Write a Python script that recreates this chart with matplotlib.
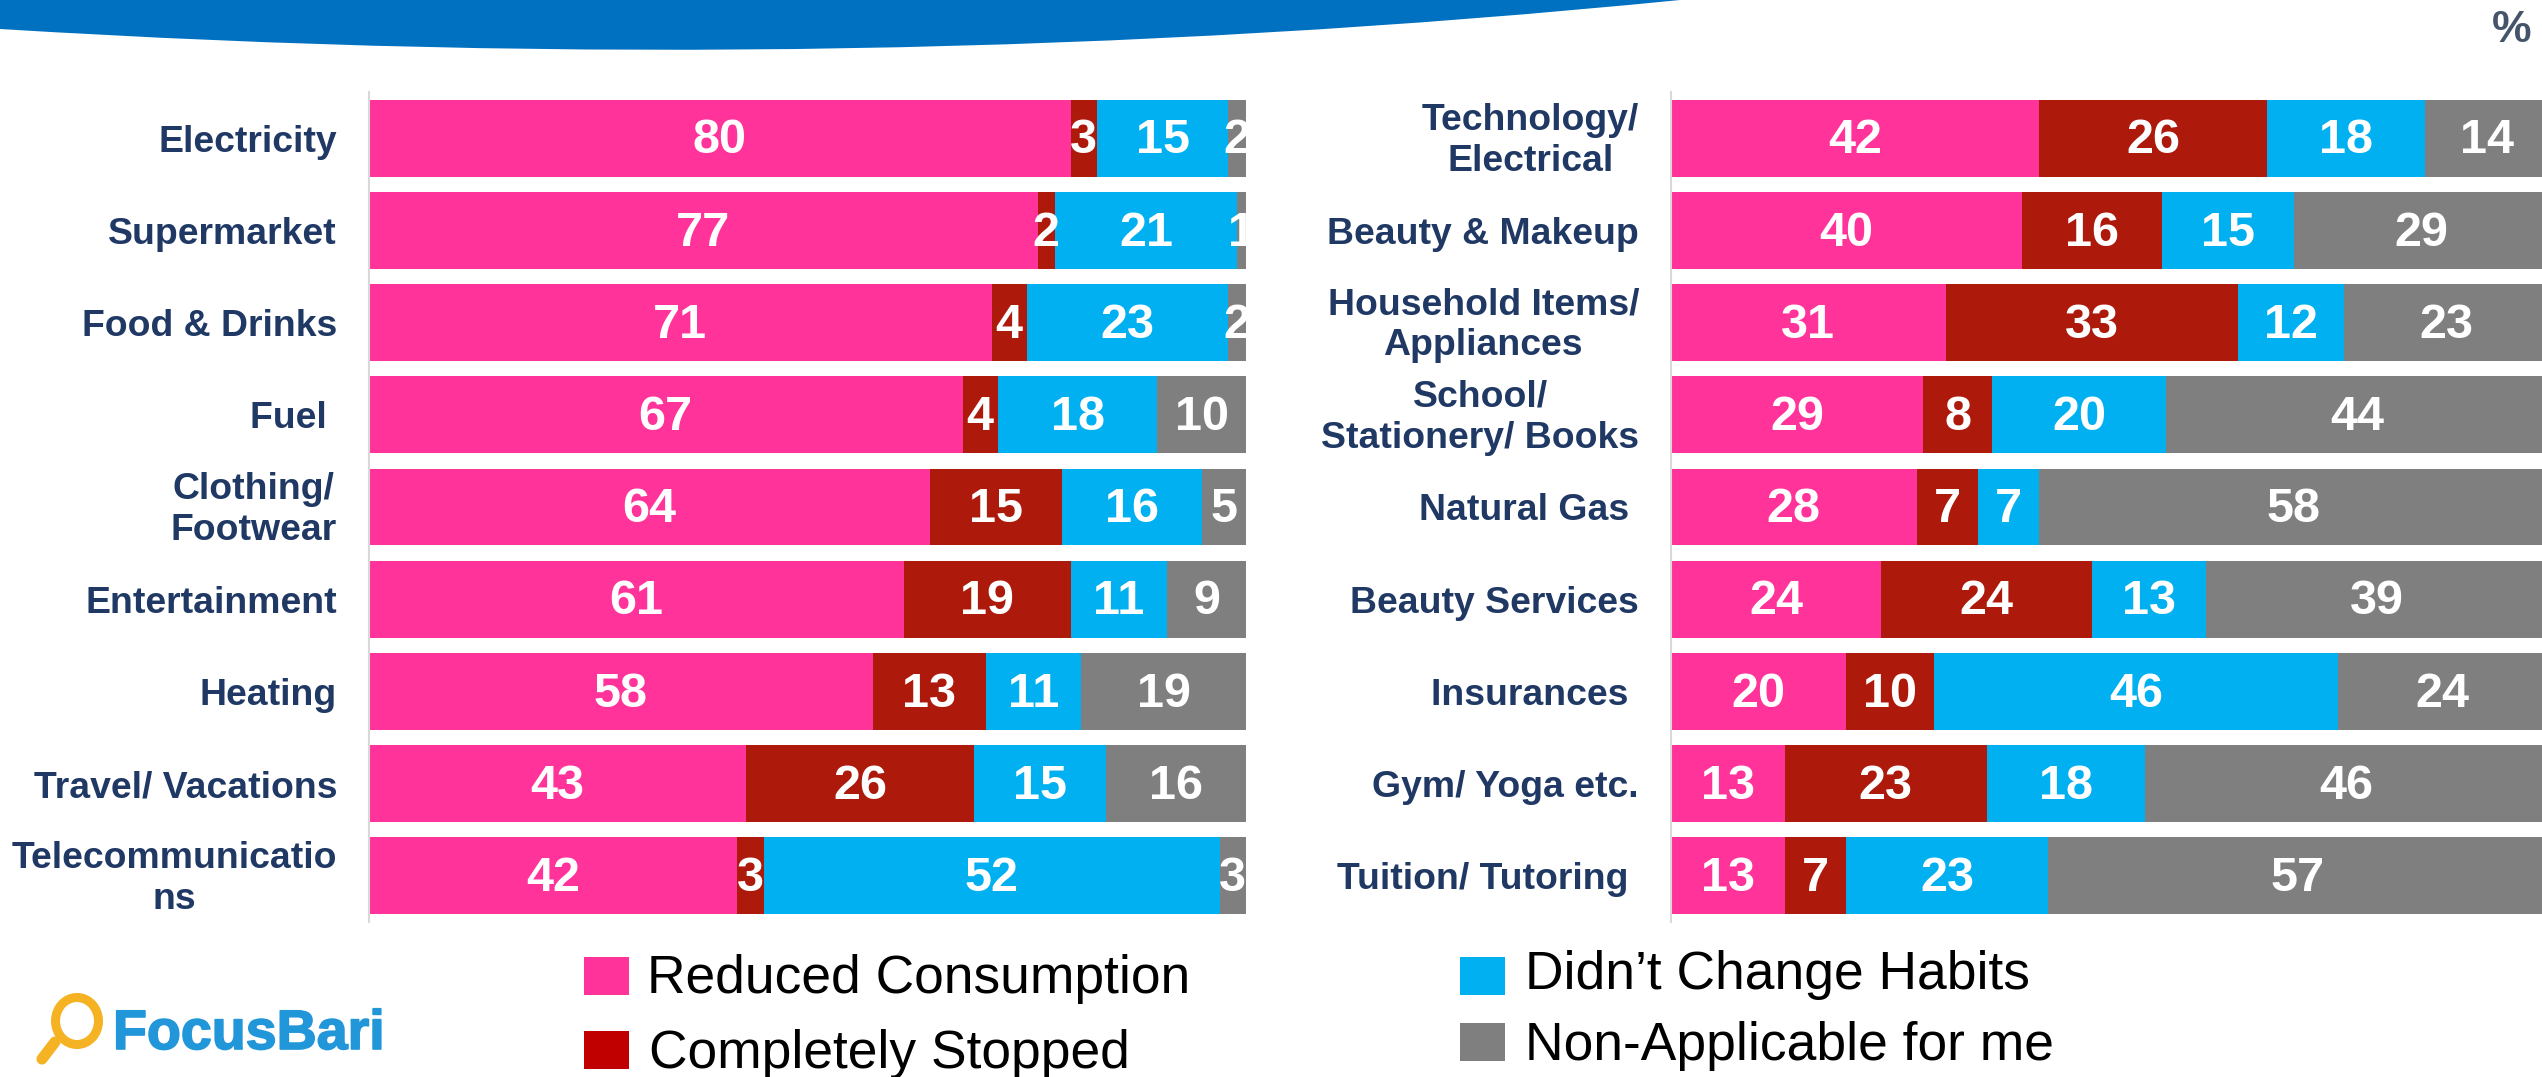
import matplotlib
matplotlib.use("Agg")
import matplotlib.pyplot as plt
import matplotlib.patheffects as pe
import numpy as np
from matplotlib.patches import Rectangle, PathPatch, Ellipse
from matplotlib.path import Path
from matplotlib.transforms import ScaledTranslation

plt.rcParams['font.family'] = ['Liberation Sans', 'DejaVu Sans']

# ---- data ----
series = ["Reduced Consumption", "Completely Stopped", "Didn\u2019t Change Habits", "Non-Applicable for me"]
bar_colors = ["#FF3399", "#AD1A0C", "#00B0F0", "#7F7F7F"]
legend_colors = ["#FF3399", "#C00000", "#00B0F0", "#7F7F7F"]

left_cats = ["Electricity", "Supermarket", "Food & Drinks", "Fuel ", "Clothing/\nFootwear",
             "Entertainment", "Heating", "Travel/ Vacations", "Telecommunicatio\nns"]
left_reduced = [80, 77, 71, 67, 64, 61, 58, 43, 42]
left_stopped = [3, 2, 4, 4, 15, 19, 13, 26, 3]
left_same = [15, 21, 23, 18, 16, 11, 11, 15, 52]
left_na = [2, 1, 2, 10, 5, 9, 19, 16, 3]

right_cats = ["Technology/\nElectrical", "Beauty & Makeup", "Household Items/\nAppliances",
              "School/\nStationery/ Books", "Natural Gas ", "Beauty Services", "Insurances ",
              "Gym/ Yoga etc.", "Tuition/ Tutoring "]
right_reduced = [42, 40, 31, 29, 28, 24, 20, 13, 13]
right_stopped = [26, 16, 33, 8, 7, 24, 10, 23, 7]
right_same = [18, 15, 12, 20, 7, 13, 46, 18, 23]
right_na = [14, 29, 23, 44, 58, 39, 24, 46, 57]

W, H = 2542, 1077
fig = plt.figure(figsize=(W / 100, H / 100), dpi=100)


def stacked(rect, cats, rows, pad):
    # 100% stacked bars, the labels keep the rounded numbers
    x0, y0, x1, y1 = rect
    ax = fig.add_axes([x0 / W, 1 - y1 / H, (x1 - x0) / W, (y1 - y0) / H])
    rows = np.array(rows, dtype=float)
    share = rows / rows.sum(axis=0) * 100
    ypos = np.arange(len(cats))
    base = np.zeros(len(cats))
    for i in range(4):
        bars = ax.barh(ypos, share[i], left=base, height=0.834, color=bar_colors[i])
        labels = ax.bar_label(bars, labels=[str(int(v)) for v in rows[i]], label_type='center',
                              color='white', fontsize=35, fontweight='bold', clip_on=False)
        for lab in labels:
            lab.xyann = (0, -2)
        base += share[i]
    ax.set_xlim(0, 100)
    ax.set_ylim(len(cats) - 0.5, -0.5)
    ax.set_yticks(ypos, cats, fontsize=26.9, fontweight='bold', color='#1F3864',
                  multialignment='center', linespacing=1.22)
    ax.set_xticks([])
    ax.tick_params(axis='y', length=0, pad=pad)
    # two-line labels sit slightly higher than the bar centre
    for lab in ax.get_yticklabels():
        if "\n" in lab.get_text():
            lab.set_transform(lab.get_transform() + ScaledTranslation(0, 4 / 100, fig.dpi_scale_trans))
    for s in ['top', 'right', 'bottom']:
        ax.spines[s].set_visible(False)
    ax.spines['left'].set_color('#D9D9D9')
    ax.spines['left'].set_linewidth(1.5)
    return ax


stacked((369, 92, 1246, 922), left_cats,
        [left_reduced, left_stopped, left_same, left_na], 23)
# the right panel runs a little past the edge of the picture
stacked((1671, 92, 2548, 922), right_cats,
        [right_reduced, right_stopped, right_same, right_na], 23)

# ---- overlay in pixel coordinates: banner, legend, logo ----
bg = fig.add_axes([0, 0, 1, 1], zorder=5)
bg.set_xlim(0, W)
bg.set_ylim(H, 0)
bg.axis('off')

banner = Path([(0, 0), (0, 29), (857, 82), (1680, 0), (0, 0)],
              [Path.MOVETO, Path.LINETO, Path.CURVE3, Path.CURVE3, Path.CLOSEPOLY])
bg.add_patch(PathPatch(banner, facecolor='#0070C0', edgecolor='none'))

bg.text(2531, 42, "%", ha='right', va='baseline', fontsize=32, fontweight='bold', color='#44546A')

legend_pos = [(584, 957, 647, 993), (584, 1031, 649, 1068), (1460, 957, 1525, 989), (1460, 1023, 1525, 1060)]
for name, col, (sx, sy, tx, ty) in zip(series, legend_colors, legend_pos):
    bg.add_patch(Rectangle((sx, sy), 45, 38, facecolor=col, edgecolor='none'))
    bg.text(tx, ty, name, ha='left', va='baseline', fontsize=38.4, color='black')

# logo
bg.add_patch(Ellipse((77, 1021), 43, 47, facecolor='none', edgecolor='#F5B324', linewidth=6.5))
bg.plot([55, 42], [1042, 1059], color='#F5B324', linewidth=8, solid_capstyle='round')
bg.text(113, 1049, "FocusBari", ha='left', va='baseline', fontsize=40, fontweight='bold', color='#2196D9',
        path_effects=[pe.withStroke(linewidth=1.2, foreground='#2196D9')])

fig.savefig('out.png', dpi=100)
